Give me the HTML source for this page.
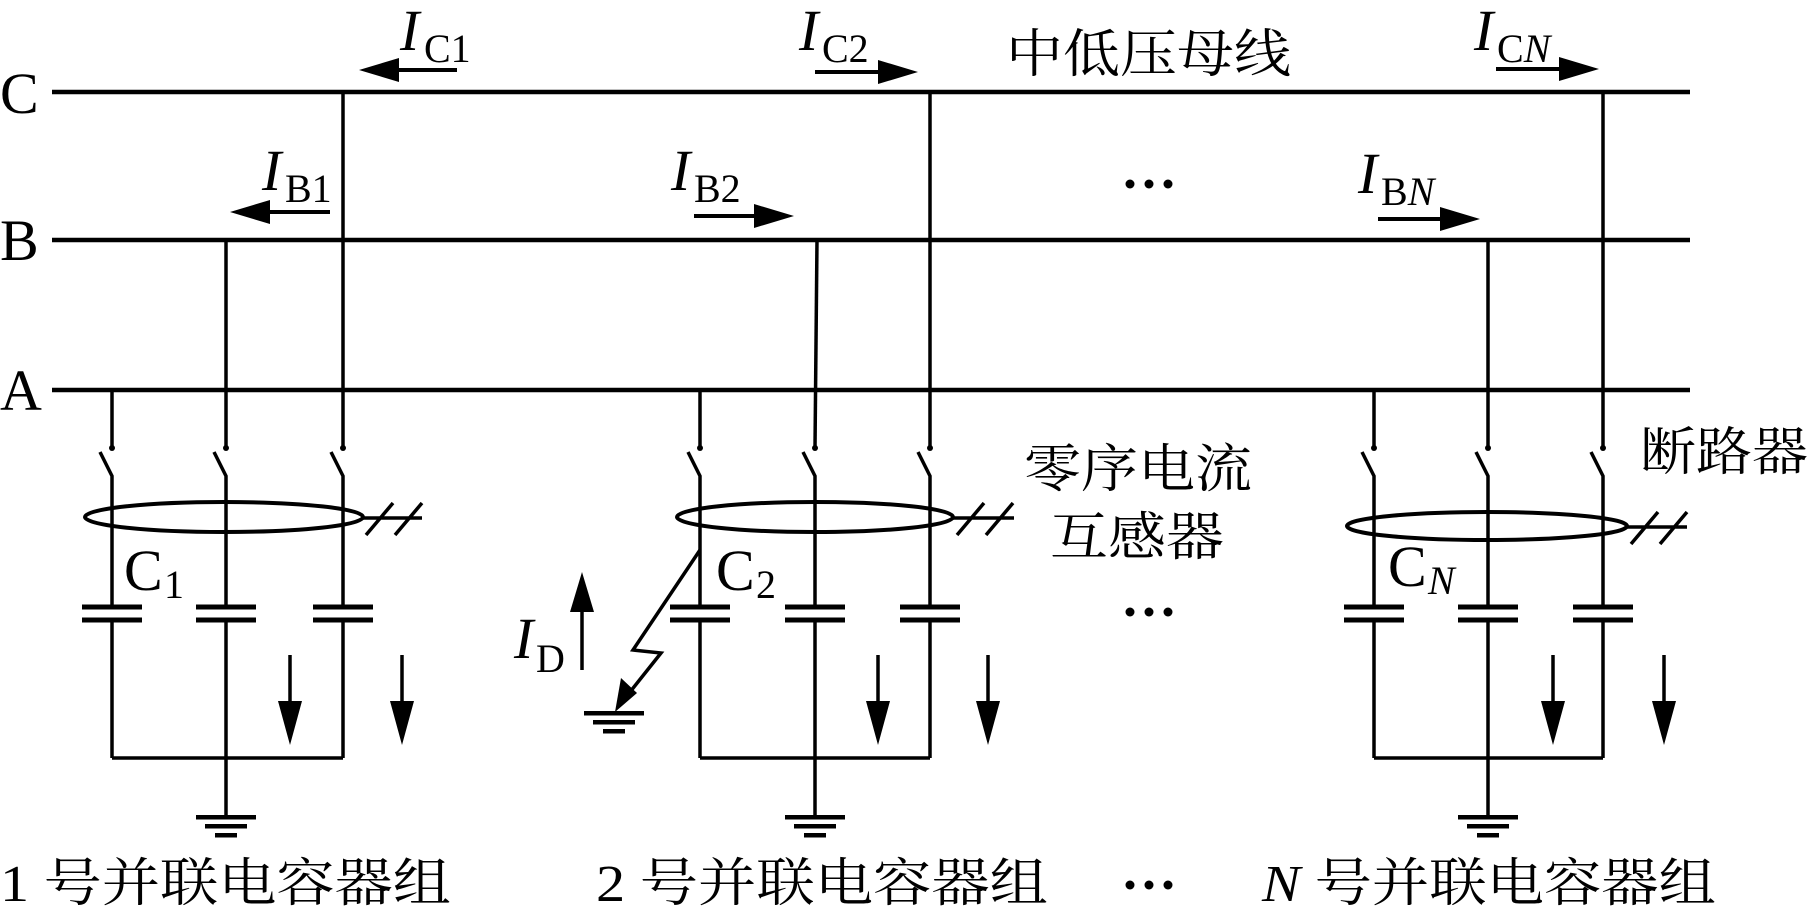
<!DOCTYPE html>
<html><head><meta charset="utf-8"><style>
html,body{margin:0;padding:0;background:#fff;}
svg{display:block;}
.l{font-family:"Liberation Serif","Noto Serif CJK SC",serif;}
.z{font-family:"Liberation Serif","Noto Serif CJK SC","Noto Sans CJK SC",serif;font-size:52px;}
</style></head><body>
<svg width="1813" height="921" viewBox="0 0 1813 921" xmlns="http://www.w3.org/2000/svg">
<g stroke="#000" fill="none" stroke-linecap="butt">
<line x1="52" y1="92" x2="1690" y2="92" stroke-width="4.5"/>
<line x1="52" y1="240" x2="1690" y2="240" stroke-width="4.5"/>
<line x1="52" y1="390" x2="1690" y2="390" stroke-width="4.5"/>
<g stroke-width="3.5">
<line x1="112" y1="390" x2="112" y2="448"/><line x1="226" y1="240" x2="226" y2="448"/><line x1="343" y1="92" x2="343" y2="448"/>
<line x1="700" y1="390" x2="700" y2="448"/><line x1="817" y1="240" x2="815" y2="448"/><line x1="930" y1="92" x2="930" y2="448"/>
<line x1="1374" y1="390" x2="1374" y2="448"/><line x1="1488" y1="240" x2="1488" y2="448"/><line x1="1603" y1="92" x2="1603" y2="448"/>
</g>
</g>
<defs>
<g id="br">
<circle cx="0" cy="448" r="3" fill="#000"/>
<path d="M-12 452 L0 476 L0 607 M0 620 L0 758" stroke="#000" stroke-width="3.5" fill="none"/>
<rect x="-30" y="604.5" width="60" height="5" fill="#000"/>
<rect x="-30" y="617.5" width="60" height="5" fill="#000"/>
</g>
<g id="gnd">
<rect x="-30" y="0" width="60" height="4.5" fill="#000"/>
<rect x="-21" y="9" width="42" height="4.5" fill="#000"/>
<rect x="-11" y="18" width="22" height="4.5" fill="#000"/>
</g>
<g id="dn">
<line x1="0" y1="655" x2="0" y2="705" stroke="#000" stroke-width="3.5"/>
<path d="M-12 701 L12 701 L0 745 Z" fill="#000"/>
</g>
<g id="dots" fill="#000">
<circle cx="1130" cy="0" r="4.5"/><circle cx="1149" cy="0" r="4.5"/><circle cx="1168" cy="0" r="4.5"/>
</g>
</defs>
<use href="#br" x="112"/><use href="#br" x="226"/><use href="#br" x="343"/>
<use href="#br" x="700"/><use href="#br" x="815"/><use href="#br" x="930"/>
<use href="#br" x="1374"/><use href="#br" x="1488"/><use href="#br" x="1603"/>
<g stroke="#000" stroke-width="3.5" fill="none">
<line x1="112" y1="758" x2="343" y2="758"/><line x1="226" y1="758" x2="226" y2="817"/>
<line x1="700" y1="758" x2="930" y2="758"/><line x1="815" y1="758" x2="815" y2="817"/>
<line x1="1374" y1="758" x2="1603" y2="758"/><line x1="1488" y1="758" x2="1488" y2="817"/>
<ellipse cx="224" cy="517" rx="139" ry="15" stroke-width="4"/>
<path d="M363 518 L422 518 M366 535 L393 503 M395 535 L422 503" stroke-width="3.5"/>
<ellipse cx="815" cy="517" rx="138" ry="15" stroke-width="4"/>
<path d="M953 518 L1014 518 M957 535 L984 503 M986 535 L1013 503" stroke-width="3.5"/>
<ellipse cx="1487" cy="526" rx="140" ry="14" stroke-width="4"/>
<path d="M1627 527 L1687 527 M1631 544 L1658 512 M1660 544 L1687 512" stroke-width="3.5"/>
<path d="M700 550 L633 650 L661 653 L622 702" stroke-width="3.5"/>
<line x1="582" y1="670" x2="582" y2="605" stroke-width="3.5"/>
</g>
<path d="M615 712 L621 678 L637 693 Z" fill="#000"/>
<path d="M570 612 L594 612 L582 572 Z" fill="#000"/>
<use href="#gnd" x="614" y="711"/>
<use href="#gnd" x="226" y="815"/><use href="#gnd" x="815" y="815"/><use href="#gnd" x="1488" y="815"/>
<use href="#dn" x="290"/><use href="#dn" x="402"/><use href="#dn" x="878"/><use href="#dn" x="988"/><use href="#dn" x="1553"/><use href="#dn" x="1664"/>
<use href="#dots" y="184"/><use href="#dots" y="612"/><use href="#dots" y="885"/>
<g stroke="#000" stroke-width="4">
<line x1="457" y1="70" x2="390" y2="70"/><line x1="815" y1="72" x2="890" y2="72"/><line x1="1496" y1="69" x2="1570" y2="69"/>
<line x1="330" y1="212" x2="262" y2="212"/><line x1="694" y1="216" x2="765" y2="216"/><line x1="1378" y1="219" x2="1452" y2="219"/>
</g>
<g fill="#000">
<path d="M359 70 L399 58 L399 82 Z"/><path d="M918 72 L878 60 L878 84 Z"/><path d="M1599 69 L1559 57 L1559 81 Z"/>
<path d="M230 212 L270 200 L270 224 Z"/><path d="M794 216 L754 204 L754 228 Z"/><path d="M1480 219 L1440 207 L1440 231 Z"/>
</g>
<g class="l" fill="#000">
<text x="0" y="113" font-size="58">C</text>
<text x="0" y="260" font-size="58">B</text>
<text x="0" y="410" font-size="58">A</text>
<text x="400" y="50" font-size="58" font-style="italic">I</text><text x="424" y="62" font-size="40">C1</text>
<text x="799" y="50" font-size="58" font-style="italic">I</text><text x="822" y="62" font-size="40">C2</text>
<text x="1474" y="50" font-size="58" font-style="italic">I</text><text x="1497" y="62" font-size="40">C<tspan font-style="italic">N</tspan></text>
<text x="262" y="190" font-size="58" font-style="italic">I</text><text x="285" y="202" font-size="40">B1</text>
<text x="671" y="190" font-size="58" font-style="italic">I</text><text x="694" y="202" font-size="40">B2</text>
<text x="1358" y="193" font-size="58" font-style="italic">I</text><text x="1381" y="205" font-size="40">B<tspan font-style="italic">N</tspan></text>
<text x="514" y="658" font-size="58" font-style="italic">I</text><text x="536" y="672" font-size="40">D</text>
<text x="124" y="590" font-size="58">C</text><text x="164" y="598" font-size="40">1</text>
<text x="716" y="590" font-size="58">C</text><text x="756" y="598" font-size="40">2</text>
<text x="1388" y="586" font-size="58">C</text><text x="1428" y="594" font-size="40" font-style="italic">N</text>
</g>
<g class="z" fill="#000">
<text x="1006" y="72" textLength="285" lengthAdjust="spacingAndGlyphs">中低压母线</text>
<text x="1024" y="487" textLength="228" lengthAdjust="spacingAndGlyphs">零序电流</text>
<text x="1050" y="555" textLength="174" lengthAdjust="spacingAndGlyphs">互感器</text>
<text x="1640" y="470" textLength="168" lengthAdjust="spacingAndGlyphs">断路器</text>
<text x="0" y="901" textLength="451" lengthAdjust="spacingAndGlyphs">1 号并联电容器组</text>
<text x="596" y="901" textLength="452" lengthAdjust="spacingAndGlyphs">2 号并联电容器组</text>
<text x="1262" y="901" textLength="454" lengthAdjust="spacingAndGlyphs"><tspan font-style="italic">N</tspan> 号并联电容器组</text>
</g>
</svg>
</body></html>
